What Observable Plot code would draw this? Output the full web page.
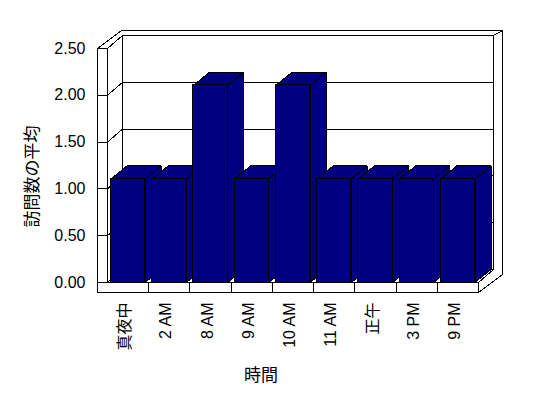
<!DOCTYPE html>
<html><head><meta charset="utf-8">
<script src="https://cdn.jsdelivr.net/npm/d3@7"></script>
<script src="https://cdn.jsdelivr.net/npm/@observablehq/plot@0.6"></script>
<style>body{margin:0;background:#fff}</style>
</head><body><div id="chart"></div>
<script>
// ---- data ----
const categories = ["真夜中", "2 AM", "8 AM", "9 AM", "10 AM", "11 AM", "正午", "3 PM", "9 PM"];
const values = [1, 1, 2, 1, 2, 1, 1, 1, 1];
const yTicks = [0, 0.5, 1, 1.5, 2, 2.5];
const yTitle = "訪問数の平均";
const xTitle = "時間";

// ---- layout / 3D styling ----
const width = 548, height = 398, mt = 48, mr = 70, mb = 116, ml = 107;
const n = categories.length, yMax = 2.5;
const pxX = (width - ml - mr) / n, pxY = (height - mt - mb) / yMax;
const D1 = {x: 15 / pxX, y: 13 / pxY};   // depth of back wall front surface
const D2 = {x: 24 / pxX, y: 18 / pxY};   // depth of back wall back surface
const BD = {x: 16 / pxX, y: 13 / pxY};   // bar depth
const wallX = 10 / pxX, floorY = 10 / pxY;
const inset = 3.5 / pxX, lift = 10 / pxY;

function poly(id, pts) { return pts.concat([pts[0]]).map(([x, y]) => ({id, x, y})); }

const topFace = poly("top", [[-wallX, yMax], [0, yMax], [D1.x, yMax + D1.y], [n + D1.x, yMax + D1.y], [n + D2.x, yMax + D2.y], [-wallX + D2.x, yMax + D2.y]]);
const rightFace = poly("right", [[n, 0], [n + D1.x, D1.y], [n + D1.x, yMax + D1.y], [n + D2.x, yMax + D2.y], [n + D2.x, -floorY + D2.y], [n, -floorY]]);
const backWall = poly("back", [[D1.x, D1.y], [n + D1.x, D1.y], [n + D1.x, yMax + D1.y], [D1.x, yMax + D1.y]]);
const leftInner = poly("li", [[0, yMax], [D1.x, yMax + D1.y], [D1.x, D1.y], [0, 0]]);
const floorTop = poly("ft", [[0, 0], [n, 0], [n + D1.x, D1.y], [D1.x, D1.y]]);
const frontL = poly("fl", [[-wallX, yMax], [0, yMax], [0, 0], [n, 0], [n, -floorY], [-wallX, -floorY]]);

const barSides = values.flatMap((v, i) => {
  const x1 = i + 1 - inset, t = v + lift;
  return poly(i, [[x1, t], [x1 + BD.x, t + BD.y], [x1 + BD.x, BD.y], [x1, 0]]);
});
const barTops = values.flatMap((v, i) => {
  const x0 = i + inset, x1 = i + 1 - inset, t = v + lift;
  return poly(i, [[x0, t], [x1, t], [x1 + BD.x, t + BD.y], [x0 + BD.x, t + BD.y]]);
});
const barFronts = values.map((v, i) => ({x1: i + inset, x2: i + 1 - inset, y: v + lift}));

const face = (data, fill) => Plot.line(data, {x: "x", y: "y", z: "id", fill, stroke: "black", strokeWidth: 1, strokeLinejoin: "miter", strokeLinecap: "square", shapeRendering: "crispEdges"});
const seg = (data, o) => Plot.link(data, {...o, stroke: "black", strokeWidth: 1, shapeRendering: "crispEdges"});
const navy = "#000080";

const chart = Plot.plot({
  width, height, marginTop: mt, marginRight: mr, marginBottom: mb, marginLeft: ml,
  style: {fontFamily: "'Liberation Sans', 'Noto Sans CJK JP', sans-serif", fontSize: "16px", background: "white", color: "black"},
  x: {domain: [0, n], axis: null},
  y: {domain: [0, yMax], axis: null},
  marks: [
    face(topFace, "white"),
    face(rightFace, "white"),
    face(backWall, "white"),
    seg(yTicks, {x1: D1.x, x2: n + D1.x, y1: d => d + D1.y, y2: d => d + D1.y}),
    face(leftInner, "white"),
    seg(yTicks, {x1: 0, y1: d => d, x2: D1.x, y2: d => d + D1.y}),
    face(floorTop, "white"),
    face(frontL, "white"),
    seg(yTicks, {x1: -wallX, x2: 0, y1: d => d, y2: d => d}),
    seg(d3.range(1, n), {x1: d => d, x2: d => d, y1: -floorY, y2: 0}),
    face(barSides, navy),
    face(barTops, navy),
    Plot.rect(barFronts, {x1: "x1", x2: "x2", y1: 0, y2: "y", fill: navy, stroke: "black", strokeWidth: 1, shapeRendering: "crispEdges"}),
    Plot.axisY(yTicks, {tickFormat: d3.format(".2f"), tickSize: 0, tickPadding: 22, label: null, fontSize: 16}),
    Plot.text(categories, {x: (d, i) => i + 0.5, y: 0, dy: 20, dx: -3, rotate: -90, textAnchor: "end", text: d => d, fontSize: 16, fill: "black"}),
    Plot.text([yTitle], {frameAnchor: "left", dx: -75, dy: 11, rotate: -90, textAnchor: "middle", lineAnchor: "middle", text: d => d, fontSize: 17, fill: "black"}),
    Plot.text([xTitle], {frameAnchor: "bottom", dx: -32, dy: 93, textAnchor: "middle", lineAnchor: "middle", text: d => d, fontSize: 17, fill: "black"})
  ]
});
document.getElementById("chart").appendChild(chart);
</script>
</body></html>
